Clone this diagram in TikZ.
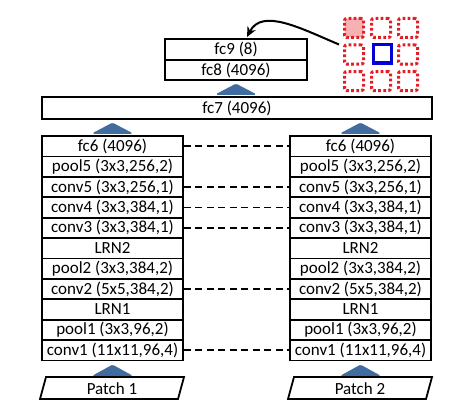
\documentclass[tikz,border=0pt]{standalone}
\usepackage{fontspec}
\setmainfont{Carlito}
\usetikzlibrary{arrows.meta}
\definecolor{tricol}{RGB}{64,108,160}
\definecolor{dotred}{RGB}{228,28,36}
\definecolor{pinkfill}{RGB}{246,178,178}
\definecolor{sqblue}{RGB}{0,0,215}
\begin{document}
\begin{tikzpicture}[x=1pt,y=-1pt,
  lbl/.style={inner sep=0pt, font=\fontsize{17}{20}\selectfont},
  layer/.style={draw=black, line width=1.8pt, minimum width=141pt, minimum height=20.4pt, inner sep=0pt, font=\fontsize{17}{20}\selectfont},
  dashline/.style={draw=black, line width=1.6pt, dash pattern=on 7pt off 4.5pt},
  tri/.style={fill=tricol, draw=tricol, line width=0.6pt, rounded corners=1.5pt},
  patchbox/.style={draw=black, line width=1.8pt},
  cell/.style={draw=dotred, line width=3pt, dash pattern=on 2.8pt off 2.3pt, minimum size=19pt, inner sep=0pt, rounded corners=2pt},
  bluesq/.style={draw=sqblue, line width=3pt, minimum size=18pt, inner sep=0pt},
  curvearrow/.style={draw=black, line width=2pt, -{Stealth[length=10pt,width=9pt]}}
]
\useasboundingbox (0,0) rectangle (460,412);

% columns
\def\lx{112.5}
\def\rx{360.5}
\foreach \t [count=\i] in {fc6 (4096),pool5 (3x3{,}256{,}2),conv5 (3x3{,}256{,}1),conv4 (3x3{,}384{,}1),conv3 (3x3{,}384{,}1),LRN2,pool2 (3x3{,}384{,}2),conv2 (5x5{,}384{,}2),LRN1,pool1 (3x3{,}96{,}2),conv1 (11x11{,}96{,}4)}{
  \pgfmathsetmacro{\yy}{136+20.4*(\i-0.5)}
  \node[layer] (L\i) at (\lx,\yy) {\t};
  \node[layer] (R\i) at (\rx,\yy) {\t};
}

% dashed links
\foreach \i in {1,3,4,5,8,11}{
  \draw[dashline] (L\i.east) -- (R\i.west);
}

% fc7, fc8, fc9
\node[layer, minimum width=390pt, minimum height=22pt] (fc7) at (237,108) {fc7 (4096)};
\node[layer, minimum width=142pt, minimum height=20.5pt] (fc9) at (236,49.5) {fc9 (8)};
\node[layer, minimum width=142pt, minimum height=20.5pt] (fc8) at (236,70) {fc8 (4096)};

% triangles
\foreach \cx/\ty/\by in {112.5/123/133.5, 360.5/123/133.5, 236/84/94.5, 112.5/365/376, 360.5/365/376}{
  \fill[tri] (\cx-20,\by) -- (\cx,\ty) -- (\cx+20,\by) -- cycle;
}

% patches
\draw[patchbox] (40,399) -- (46,377) -- (184,377) -- (178,399) -- cycle;
\node[lbl] (p1) at (112,388.5) {Patch 1};
\draw[patchbox] (288,399) -- (294,377) -- (432,377) -- (426,399) -- cycle;
\node[lbl] (p2) at (360,388.5) {Patch 2};

% grid
\node[cell, fill=pinkfill] (g11) at (354,28) {};
\node[cell] (g12) at (381,28) {};
\node[cell] (g13) at (408,28) {};
\node[cell] (g21) at (354,54.5) {};
\node[bluesq] (g22) at (382,54) {};
\node[cell] (g23) at (408,54.5) {};
\node[cell] (g31) at (354,81) {};
\node[cell] (g32) at (381,81) {};
\node[cell] (g33) at (408,81) {};

% curved arrow
\coordinate (tip) at (247,37);
\draw[curvearrow] (g21.west) ++(-4,-10) .. controls (300,28) and (262,8) .. (tip);
\end{tikzpicture}
\end{document}
